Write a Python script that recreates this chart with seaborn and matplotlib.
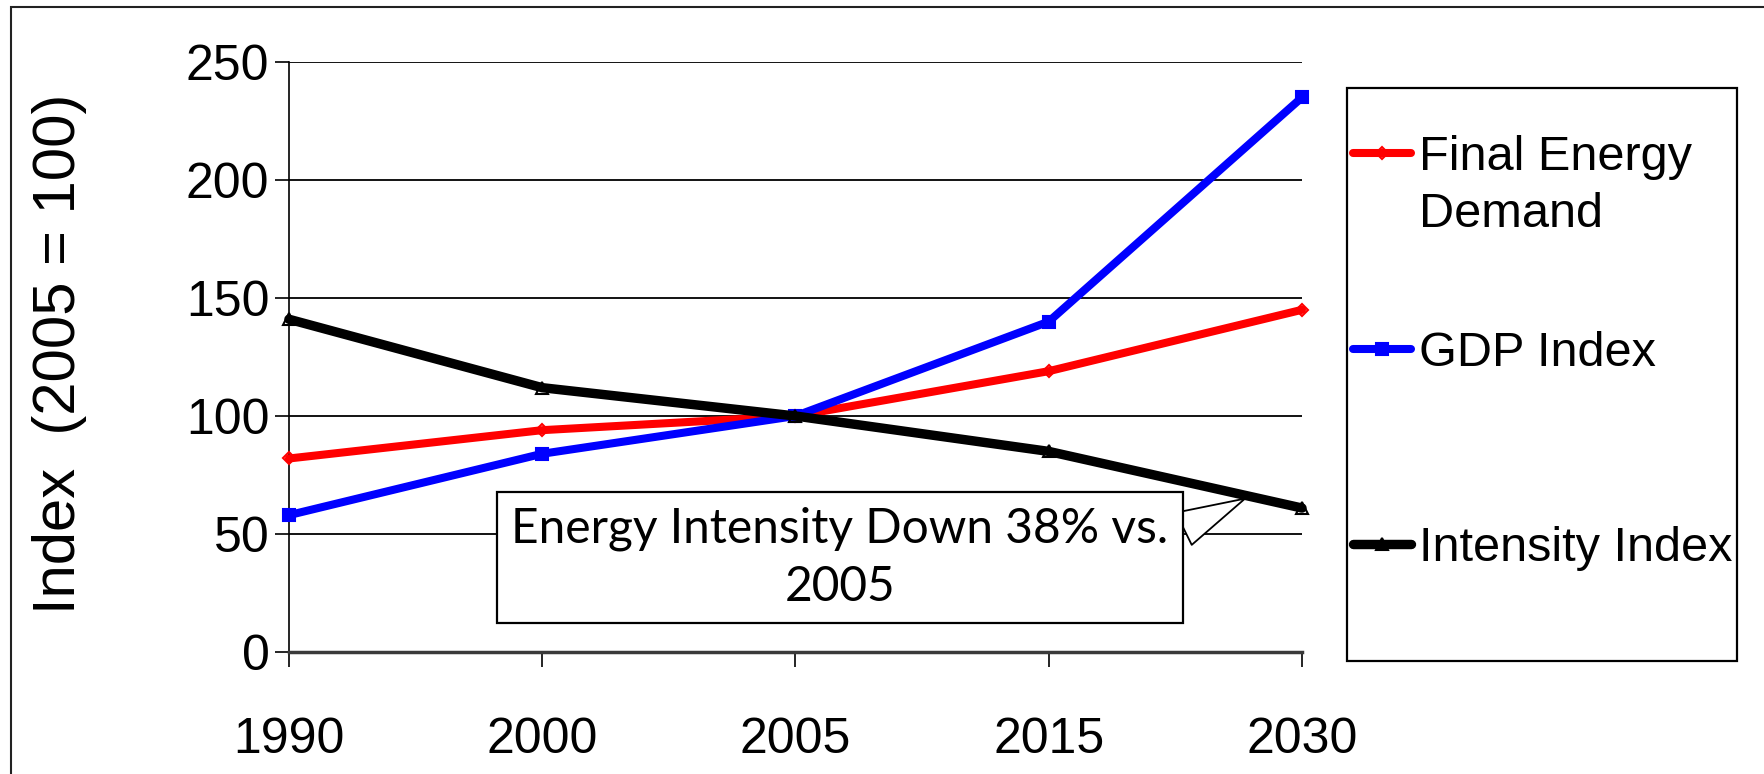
import numpy as np
import pandas as pd
import matplotlib.pyplot as plt
import seaborn as sns
from matplotlib.patches import Rectangle

# ---------------- data ----------------
years = ["1990", "2000", "2005", "2015", "2030"]
final_energy = [82, 94, 100, 119, 145]
gdp_index = [58, 84, 100, 140, 235]
intensity_index = [141, 112, 100, 85, 61]

series_names = ["Final Energy Demand", "GDP Index", "Intensity Index"]
y_ticks = [0, 50, 100, 150, 200, 250]

callout_text = "Energy Intensity Down 38% vs.\n2005"

sns.set_style("white")
plt.rcParams["font.family"] = ["Liberation Sans", "DejaVu Sans"]
plt.rcParams["text.color"] = "black"
plt.rcParams["axes.labelcolor"] = "black"
plt.rcParams["xtick.color"] = "black"
plt.rcParams["ytick.color"] = "black"

fig = plt.figure(figsize=(17.64, 7.74), dpi=100)
ax = fig.add_axes([0.1638, 0.1576, 0.5743, 0.7623])

styles = [
    dict(color="#ff0000", marker="D", markersize=6, lw=5.8, markerfacecolor="none"),
    dict(color="#0000ff", marker="s", markersize=9, lw=5.8, markerfacecolor="#0000ff"),
    dict(color="#000000", marker="^", markersize=8, lw=6.8, markerfacecolor="none"),
]
for name, vals, st in zip(series_names, [final_energy, gdp_index, intensity_index], styles):
    sns.lineplot(
        x=years, y=vals, ax=ax, sort=False, label=name,
        color=st["color"], lw=st["lw"], marker=st["marker"],
        markersize=st["markersize"], markerfacecolor=st["markerfacecolor"],
        markeredgecolor=st["color"], markeredgewidth=1.5, zorder=3,
        clip_on=False,
    )

ax.set_xlim(0, len(years) - 1)
ax.set_ylim(y_ticks[0], y_ticks[-1])
ax.set_yticks(y_ticks)
ax.yaxis.grid(True, color="black", lw=1.3)
ax.xaxis.grid(False)
ax.set_axisbelow(True)

for side in ["top", "right"]:
    ax.spines[side].set_visible(False)
ax.spines["left"].set_color("black")
ax.spines["left"].set_linewidth(1.2)
ax.spines["bottom"].set_color("#3a3a3a")
ax.spines["bottom"].set_linewidth(2.5)

ax.tick_params(axis="y", direction="out", length=10, width=1.2, color="black",
               labelsize=36, pad=4, left=True)
ax.tick_params(axis="x", direction="out", length=11, width=1.2, color="black",
               labelsize=36, pad=36, bottom=True)

ax.set_xlabel("")
ax.set_ylabel("Index  (2005 = 100)", fontsize=43)
ax.yaxis.set_label_coords(-0.199, 0.505)

# ---------------- callout ----------------
ax.annotate(
    callout_text,
    xy=(3.775, 65), xytext=(2.176, 40),
    ha="center", va="center", fontsize=34.5, family=["Lato", "DejaVu Sans"],
    linespacing=1.37,
    bbox=dict(boxstyle="square,pad=0.3", fc="white", ec="black", lw=1.6),
    arrowprops=dict(arrowstyle="wedge,tail_width=0.75", fc="white", ec="black",
                    lw=1.3, relpos=(1.0, 0.71), shrinkA=0, shrinkB=0),
    zorder=5,
)

# ---------------- legend ----------------
handles, labels = ax.get_legend_handles_labels()
# Excel wraps the long name; the entries stay evenly spaced by their first line
labels = [lab.replace("Final Energy Demand", "Final Energy") for lab in labels]
leg = ax.legend(
    handles, labels,
    loc="upper left", bbox_to_anchor=(0.767, 0.8256), bbox_transform=fig.transFigure,
    frameon=False, fontsize=35, handlelength=1.2, handletextpad=0.15,
    labelspacing=3.1, borderpad=0, borderaxespad=0,
)
leg.set_zorder(5)

fig.patches.append(Rectangle((0.7636, 0.146), 0.9847 - 0.7636, 0.886 - 0.146,
                             transform=fig.transFigure, fill=False,
                             ec="black", lw=1.6))
# outer chart frame
fig.patches.append(Rectangle((11 / 1764, -0.05), 1.0, 0.991 + 0.05,
                             transform=fig.transFigure, fill=False,
                             ec="#222222", lw=1.5))

# wrapped second line of the first legend label, placed under its first line
fig.canvas.draw()
first_bb = leg.get_texts()[0].get_window_extent().transformed(fig.transFigure.inverted())
fig.text(first_bb.x0, first_bb.y0 - 57 / 774, "Demand", ha="left", va="bottom",
         fontsize=35)

fig.savefig("out.png", dpi=100)
